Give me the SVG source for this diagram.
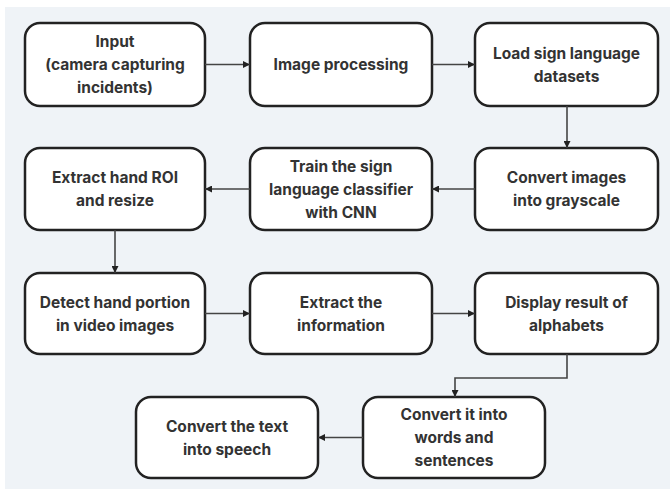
<svg xmlns="http://www.w3.org/2000/svg" width="670" height="489" viewBox="0 0 670 489">
<defs>
<style>
.box{fill:#ffffff;stroke:#222222;stroke-width:2.5}
.t{font-family:Inter,"Liberation Sans",sans-serif;font-weight:700;font-size:15.5px;fill:#333333;text-anchor:middle}
.c{fill:none;stroke:#444444;stroke-width:1.6}
</style>
<marker id="ah" viewBox="0 0 10 10" refX="10" refY="5" markerWidth="7" markerHeight="7" markerUnits="userSpaceOnUse" orient="auto">
<path d="M0,0 L10,5 L0,10 z" fill="#222222"/>
</marker>
</defs>
<rect x="0" y="0" width="670" height="489" fill="#ffffff"/>
<rect x="5" y="7" width="665" height="482" fill="#eff3f7"/>

<g id="n1"><rect class="box" x="25" y="23" width="180" height="83" rx="15"/>
<text class="t" x="115" y="47">Input</text><text class="t" x="115" y="70">(camera capturing</text><text class="t" x="115" y="93">incidents)</text></g>
<g id="n2"><rect class="box" x="250" y="23" width="182" height="83" rx="15"/>
<text class="t" x="341" y="70">Image processing</text></g>
<g id="n3"><rect class="box" x="475" y="23" width="183" height="83" rx="15"/>
<text class="t" x="566.5" y="59">Load sign language</text><text class="t" x="566.5" y="82">datasets</text></g>
<g id="n4"><rect class="box" x="475" y="148" width="183" height="82" rx="15"/>
<text class="t" x="566.5" y="183">Convert images</text><text class="t" x="566.5" y="206">into grayscale</text></g>
<g id="n5"><rect class="box" x="250" y="148" width="182" height="82" rx="15"/>
<text class="t" x="341" y="172">Train the sign</text><text class="t" x="341" y="195">language classifier</text><text class="t" x="341" y="218">with CNN</text></g>
<g id="n6"><rect class="box" x="25" y="148" width="180" height="82" rx="15"/>
<text class="t" x="115" y="183">Extract hand ROI</text><text class="t" x="115" y="206">and resize</text></g>
<g id="n7"><rect class="box" x="25" y="273" width="180" height="81" rx="15"/>
<text class="t" x="115" y="308">Detect hand portion</text><text class="t" x="115" y="331">in video images</text></g>
<g id="n8"><rect class="box" x="250" y="273" width="182" height="81" rx="15"/>
<text class="t" x="341" y="308">Extract the</text><text class="t" x="341" y="331">information</text></g>
<g id="n9"><rect class="box" x="475" y="273" width="183" height="81" rx="15"/>
<text class="t" x="566.5" y="308">Display result of</text><text class="t" x="566.5" y="331">alphabets</text></g>
<g id="n10"><rect class="box" x="363" y="397" width="182" height="81" rx="15"/>
<text class="t" x="454" y="420">Convert it into</text><text class="t" x="454" y="443">words and</text><text class="t" x="454" y="466">sentences</text></g>
<g id="n11"><rect class="box" x="136" y="397" width="182" height="81" rx="15"/>
<text class="t" x="227" y="432">Convert the text</text><text class="t" x="227" y="455">into speech</text></g>

<g id="connectors">
<path class="c" d="M205,64.5 H250" marker-end="url(#ah)"/>
<path class="c" d="M432,64.5 H475" marker-end="url(#ah)"/>
<path class="c" d="M567,106 V148" marker-end="url(#ah)"/>
<path class="c" d="M475,189 H432" marker-end="url(#ah)"/>
<path class="c" d="M250,189 H205" marker-end="url(#ah)"/>
<path class="c" d="M115,230 V273" marker-end="url(#ah)"/>
<path class="c" d="M205,313.5 H250" marker-end="url(#ah)"/>
<path class="c" d="M432,313.5 H475" marker-end="url(#ah)"/>
<path class="c" d="M567,354 V378 H455 V397" marker-end="url(#ah)"/>
<path class="c" d="M363,437.5 H318" marker-end="url(#ah)"/>
</g>
</svg>
